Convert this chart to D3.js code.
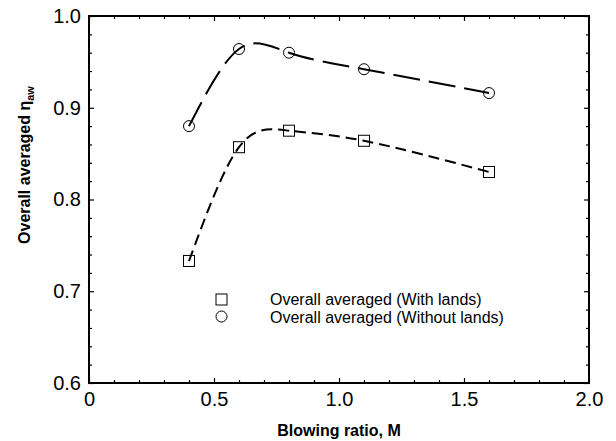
<!DOCTYPE html>
<html><head><meta charset="utf-8">
<script src="https://cdn.jsdelivr.net/npm/d3@7"></script>
<style>body{margin:0;background:#fff}svg{display:block}text{font-family:"Liberation Sans",Arial,Helvetica,sans-serif}</style>
</head><body><svg id="c" width="616" height="441"></svg>
<script>
const blowingRatio = [0.4, 0.6, 0.8, 1.1, 1.6];
const withLands = [0.733, 0.857, 0.875, 0.864, 0.830];
const withoutLands = [0.880, 0.964, 0.960, 0.942, 0.916];
const xTickLabels = ["0", "0.5", "1.0", "1.5", "2.0"];
const yTickLabels = ["0.6", "0.7", "0.8", "0.9", "1.0"];
const legendLabels = ["Overall averaged (With lands)", "Overall averaged (Without lands)"];

const W = 616, H = 441;
const m = {l: 89, r: 27, t: 16, b: 58};
const svg = d3.select("#c");
const x = d3.scaleLinear().domain([0, 2]).range([m.l, W - m.r]);
const y = d3.scaleLinear().domain([0.6, 1.0]).range([H - m.b, m.t]);

const xMajor = xTickLabels.map(Number);
const yMajor = yTickLabels.map(Number);
const xMinor = d3.range(0, 2.0001, 0.1).filter(v => !xMajor.some(t => Math.abs(t - v) < 1e-6));
const yMinor = d3.range(0.6, 1.0001, 0.02).filter(v => !yMajor.some(t => Math.abs(t - v) < 1e-6));

function drawAxis(gen, scale, major, minor, transform, labels) {
  const g = svg.append("g").attr("transform", transform);
  g.call(gen(scale).tickValues(minor).tickSize(-3).tickFormat(""));
  const g2 = svg.append("g").attr("transform", transform);
  g2.call(gen(scale).tickValues(major).tickSize(-5).tickPadding(12)
    .tickFormat((d, i) => labels ? labels[i] : ""));
  [g, g2].forEach(s => {
    s.selectAll(".domain").remove();
    s.selectAll(".tick line").attr("stroke", "#000").attr("stroke-width", 1.2);
  });
  g2.selectAll(".tick text").attr("font-size", 20).attr("fill", "#000");
  return g2;
}
const bx = drawAxis(d3.axisBottom, x, xMajor, xMinor, `translate(0,${H - m.b})`, xTickLabels);
bx.selectAll(".tick text").attr("dy", "0.85em").attr("y", 6);
drawAxis(d3.axisTop, x, xMajor, xMinor, `translate(0,${m.t})`, null);
const ly = drawAxis(d3.axisLeft, y, yMajor, yMinor, `translate(${m.l},0)`, yTickLabels);
ly.selectAll(".tick text").attr("x", -8);
drawAxis(d3.axisRight, y, yMajor, yMinor, `translate(${W - m.r},0)`, null);

svg.append("rect").attr("x", m.l).attr("y", m.t)
  .attr("width", W - m.l - m.r).attr("height", H - m.t - m.b)
  .attr("fill", "none").attr("stroke", "#000").attr("stroke-width", 2);

// lines
const line = d3.line().x(d => x(d[0])).y(d => y(d[1])).curve(d3.curveNatural);
const s1 = blowingRatio.map((v, i) => [v, withLands[i]]);
const s2 = blowingRatio.map((v, i) => [v, withoutLands[i]]);
svg.append("path").datum(s1).attr("d", line).attr("fill", "none")
  .attr("stroke", "#000").attr("stroke-width", 2).attr("stroke-dasharray", "11,6");
svg.append("path").datum(s2).attr("d", line).attr("fill", "none")
  .attr("stroke", "#000").attr("stroke-width", 2).attr("stroke-dasharray", "27,9");

// markers
svg.append("g").selectAll("rect").data(s1).join("rect")
  .attr("x", d => x(d[0]) - 5.5).attr("y", d => y(d[1]) - 5.5)
  .attr("width", 11).attr("height", 11)
  .attr("fill", "none").attr("stroke", "#000").attr("stroke-width", 1);
svg.append("g").selectAll("circle").data(s2).join("circle")
  .attr("cx", d => x(d[0])).attr("cy", d => y(d[1])).attr("r", 5.5)
  .attr("fill", "none").attr("stroke", "#000").attr("stroke-width", 1);

// legend
const lg = svg.append("g");
lg.append("rect").attr("x", 216).attr("y", 294).attr("width", 11).attr("height", 11)
  .attr("fill", "none").attr("stroke", "#000").attr("stroke-width", 1);
lg.append("circle").attr("cx", 221.5).attr("cy", 316.5).attr("r", 5.5)
  .attr("fill", "none").attr("stroke", "#000").attr("stroke-width", 1);
legendLabels.forEach((t, i) => {
  lg.append("text").attr("x", 270).attr("y", 305 + i * 17.5).attr("font-size", 16).text(t);
});

// axis titles
svg.append("text").attr("x", (m.l + W - m.r) / 2).attr("y", 436)
  .attr("text-anchor", "middle").attr("font-size", 16).attr("font-weight", "bold")
  .text("Blowing ratio, M");
const yt = svg.append("text").attr("transform", `translate(30,165) rotate(-90)`)
  .attr("text-anchor", "middle").attr("font-size", 16).attr("font-weight", "bold");
yt.append("tspan").text("Overall averaged η");
yt.append("tspan").attr("font-size", 11).attr("dy", 4).text("aw");
</script></body></html>
